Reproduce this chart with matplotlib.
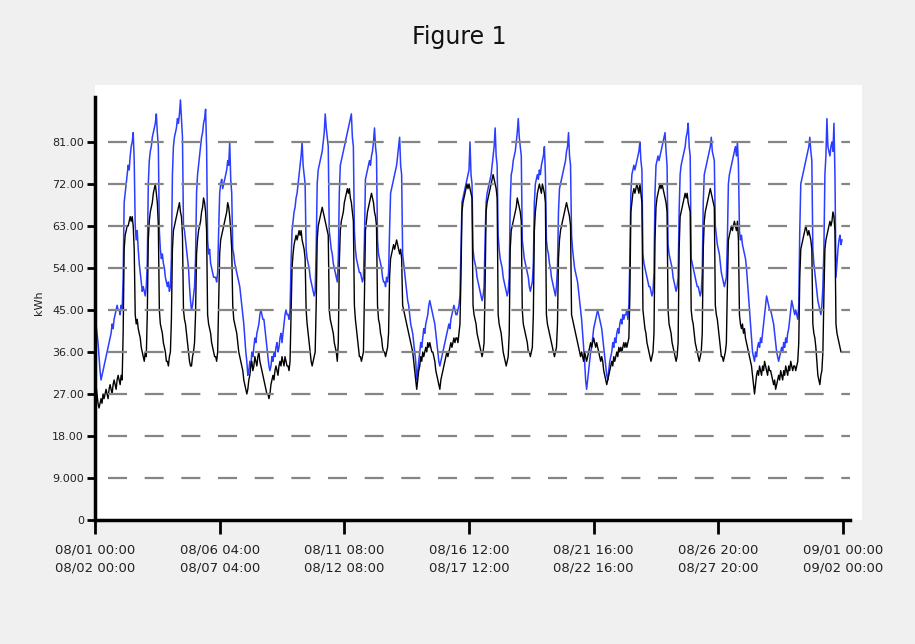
import numpy as np
import matplotlib.pyplot as plt

# hourly readings, 08/01 00:00 .. 08/31 23:00 (one row per day)
blue_kwh = [
    43, 42, 40, 38, 35, 32, 30, 31, 32, 33, 34, 35, 36, 37, 38, 39, 40, 42, 41, 43, 44, 45, 46, 45,
    45, 44, 46, 45, 52, 68, 70, 72, 74, 76, 75, 78, 80, 81, 83, 77, 63, 60, 62, 58, 55, 53, 51, 49,
    50, 49, 48, 50, 55, 72, 77, 79, 80, 82, 83, 84, 85, 87, 83, 80, 62, 58, 56, 57, 55, 54, 52, 51,
    50, 51, 49, 50, 56, 74, 80, 82, 83, 84, 86, 85, 87, 90, 86, 82, 63, 62, 60, 58, 56, 54, 50, 47,
    45, 46, 48, 50, 56, 70, 74, 76, 78, 80, 82, 83, 85, 86, 88, 80, 60, 57, 58, 55, 54, 53, 52, 52,
    52, 51, 53, 62, 70, 72, 73, 71, 72, 73, 74, 75, 77, 76, 81, 73, 70, 58, 57, 55, 54, 53, 52, 51,
    50, 48, 46, 44, 42, 39, 36, 34, 31, 32, 34, 33, 36, 35, 37, 39, 38, 40, 41, 42, 44, 45, 44, 43,
    43, 41, 39, 37, 35, 33, 32, 33, 35, 34, 36, 35, 37, 38, 36, 37, 39, 40, 38, 40, 42, 44, 45, 44,
    44, 43, 45, 55, 62, 64, 66, 67, 69, 70, 72, 74, 76, 78, 81, 76, 74, 72, 58, 56, 55, 54, 52, 51,
    50, 49, 48, 49, 58, 72, 75, 76, 77, 78, 79, 81, 83, 87, 84, 82, 80, 62, 60, 58, 57, 55, 54, 53,
    52, 51, 56, 70, 76, 77, 78, 79, 80, 81, 82, 83, 84, 85, 86, 87, 82, 80, 62, 58, 56, 55, 54, 53,
    53, 52, 51, 52, 60, 73, 74, 75, 76, 77, 76, 78, 79, 81, 84, 80, 78, 60, 57, 56, 55, 54, 52, 51,
    51, 50, 52, 51, 53, 62, 70, 71, 72, 73, 74, 75, 76, 78, 80, 82, 76, 74, 57, 55, 53, 51, 49, 47,
    46, 44, 42, 41, 40, 38, 36, 34, 30, 32, 34, 36, 38, 37, 39, 41, 40, 42, 43, 44, 46, 47, 46, 45,
    44, 43, 42, 40, 38, 36, 34, 33, 34, 35, 36, 37, 38, 39, 40, 41, 42, 41, 43, 44, 45, 46, 45, 44,
    44, 45, 46, 48, 58, 68, 69, 70, 71, 72, 73, 74, 75, 81, 74, 72, 58, 56, 55, 54, 52, 51, 50, 49,
    48, 47, 48, 50, 60, 68, 70, 71, 72, 73, 74, 76, 78, 80, 84, 78, 76, 61, 58, 56, 55, 54, 52, 51,
    50, 49, 48, 49, 52, 68, 74, 75, 77, 78, 79, 81, 83, 86, 82, 80, 78, 60, 58, 56, 55, 54, 53, 52,
    50, 49, 50, 51, 55, 68, 72, 73, 74, 73, 75, 74, 76, 77, 78, 80, 74, 60, 58, 57, 55, 54, 52, 51,
    50, 49, 48, 50, 54, 66, 71, 72, 73, 74, 75, 76, 77, 79, 80, 83, 78, 76, 61, 58, 56, 54, 53, 52,
    51, 49, 47, 45, 43, 40, 37, 34, 30, 28, 30, 32, 34, 36, 37, 39, 41, 42, 43, 44, 45, 44, 43, 42,
    41, 39, 37, 35, 33, 31, 30, 32, 34, 35, 36, 38, 37, 39, 38, 40, 41, 40, 42, 43, 42, 44, 43, 44,
    44, 45, 43, 46, 56, 70, 74, 75, 76, 75, 76, 77, 78, 79, 81, 77, 75, 57, 55, 54, 53, 52, 51, 50,
    50, 49, 48, 49, 53, 70, 76, 77, 78, 77, 78, 79, 80, 81, 82, 83, 79, 76, 59, 57, 56, 55, 54, 52,
    51, 50, 49, 50, 52, 66, 74, 76, 77, 78, 79, 80, 82, 83, 85, 80, 78, 56, 55, 54, 53, 52, 51, 50,
    50, 49, 48, 49, 53, 68, 74, 75, 76, 77, 78, 79, 80, 82, 79, 78, 77, 63, 61, 59, 58, 57, 55, 53,
    52, 51, 50, 51, 52, 60, 72, 74, 75, 76, 77, 78, 79, 80, 78, 81, 76, 62, 60, 61, 59, 58, 57, 56,
    54, 51, 48, 45, 42, 39, 36, 35, 34, 36, 35, 37, 38, 37, 39, 38, 40, 42, 44, 46, 48, 47, 46, 45,
    45, 44, 43, 42, 40, 38, 36, 35, 34, 35, 36, 37, 36, 38, 37, 39, 38, 40, 41, 43, 45, 47, 46, 45,
    44, 45, 44, 43, 46, 62, 72, 73, 74, 75, 76, 77, 78, 79, 80, 82, 79, 77, 58, 55, 53, 51, 49, 47,
    46, 45, 44, 46, 50, 58, 74, 78, 86, 80, 79, 78, 80, 81, 79, 85, 74, 52, 55, 58, 60, 61, 59, 60,
]
black_kwh = [
    31, 29, 27, 25, 24, 25, 26, 25, 27, 26, 27, 28, 27, 26, 28, 29, 28, 27, 29, 30, 29, 28, 30, 31,
    30, 29, 31, 30, 40, 58, 61, 62, 63, 63, 64, 65, 64, 65, 63, 58, 44, 42, 43, 41, 40, 39, 37, 36,
    35, 34, 36, 35, 44, 60, 64, 66, 67, 68, 70, 71, 72, 70, 68, 63, 45, 42, 41, 40, 38, 37, 36, 34,
    34, 33, 35, 36, 43, 58, 62, 63, 64, 65, 66, 67, 68, 66, 65, 61, 45, 43, 42, 40, 38, 36, 34, 33,
    33, 35, 36, 38, 44, 57, 60, 62, 63, 64, 66, 67, 69, 68, 66, 62, 44, 42, 41, 40, 38, 37, 36, 35,
    35, 34, 36, 46, 57, 60, 61, 62, 63, 64, 65, 66, 68, 67, 65, 62, 58, 46, 43, 42, 41, 40, 38, 36,
    35, 34, 33, 32, 30, 29, 28, 27, 28, 30, 31, 33, 34, 32, 33, 35, 34, 33, 35, 36, 34, 33, 32, 31,
    30, 29, 28, 27, 27, 26, 27, 29, 30, 31, 30, 32, 33, 32, 31, 33, 34, 33, 35, 34, 33, 35, 34, 33,
    33, 32, 34, 44, 54, 57, 59, 60, 61, 60, 61, 62, 61, 62, 60, 59, 58, 56, 45, 42, 40, 38, 36, 34,
    33, 34, 35, 36, 46, 60, 63, 64, 65, 66, 67, 66, 65, 64, 63, 62, 61, 45, 43, 42, 41, 40, 38, 37,
    36, 34, 38, 55, 62, 64, 65, 66, 68, 69, 70, 71, 70, 71, 69, 68, 66, 64, 46, 43, 41, 39, 37, 35,
    35, 34, 35, 36, 48, 62, 64, 66, 67, 68, 69, 70, 69, 68, 66, 65, 63, 46, 43, 42, 40, 39, 37, 36,
    36, 35, 36, 37, 40, 52, 56, 57, 58, 59, 58, 59, 60, 59, 58, 57, 58, 56, 46, 45, 44, 43, 42, 41,
    40, 39, 38, 37, 36, 34, 32, 30, 28, 30, 32, 33, 35, 34, 36, 35, 36, 37, 36, 38, 37, 38, 37, 36,
    36, 35, 34, 32, 31, 30, 29, 28, 30, 31, 32, 33, 34, 35, 36, 35, 36, 37, 38, 37, 38, 39, 38, 39,
    39, 38, 40, 42, 52, 66, 68, 69, 70, 71, 72, 71, 72, 71, 70, 69, 46, 44, 43, 42, 40, 39, 38, 37,
    36, 35, 36, 38, 50, 66, 68, 69, 70, 71, 72, 73, 74, 73, 72, 71, 69, 44, 42, 41, 40, 38, 36, 35,
    34, 33, 34, 35, 40, 58, 62, 63, 64, 65, 66, 67, 69, 68, 67, 66, 64, 45, 42, 41, 40, 39, 38, 36,
    36, 35, 36, 37, 44, 62, 66, 68, 70, 71, 72, 71, 70, 72, 71, 70, 68, 44, 42, 41, 40, 39, 38, 37,
    36, 35, 36, 37, 42, 56, 60, 62, 63, 64, 65, 66, 67, 68, 67, 66, 65, 63, 44, 43, 42, 41, 40, 39,
    38, 37, 36, 35, 36, 35, 34, 36, 35, 34, 35, 36, 37, 38, 37, 38, 39, 38, 37, 38, 37, 36, 35, 34,
    35, 34, 32, 31, 30, 29, 30, 31, 32, 33, 34, 33, 35, 34, 35, 36, 35, 37, 36, 37, 36, 37, 38, 37,
    38, 37, 38, 39, 48, 66, 68, 70, 71, 70, 71, 72, 71, 70, 72, 70, 68, 45, 43, 41, 40, 38, 37, 36,
    35, 34, 35, 36, 40, 60, 67, 69, 70, 71, 72, 71, 72, 71, 70, 69, 68, 66, 45, 42, 41, 40, 38, 37,
    36, 35, 34, 35, 38, 58, 65, 66, 67, 68, 69, 70, 69, 70, 68, 67, 66, 45, 43, 42, 40, 38, 37, 36,
    35, 34, 35, 36, 40, 58, 64, 66, 67, 68, 69, 70, 71, 70, 69, 68, 67, 46, 44, 43, 41, 39, 37, 35,
    35, 34, 35, 36, 38, 50, 60, 61, 62, 63, 62, 63, 64, 63, 62, 64, 60, 44, 42, 41, 42, 40, 41, 39,
    38, 37, 36, 35, 34, 33, 31, 29, 27, 29, 31, 32, 31, 33, 32, 31, 33, 32, 34, 33, 32, 31, 33, 32,
    32, 31, 30, 29, 30, 28, 29, 30, 31, 30, 32, 31, 30, 32, 31, 33, 32, 31, 33, 32, 34, 33, 32, 33,
    33, 32, 33, 34, 38, 52, 58, 59, 60, 61, 62, 63, 62, 61, 62, 61, 60, 58, 42, 40, 39, 37, 34, 31,
    30, 29, 31, 32, 36, 48, 58, 60, 61, 62, 63, 64, 63, 64, 66, 65, 62, 42, 40, 39, 38, 37, 36, 36,
]

y_ticks = [0, 9, 18, 27, 36, 45, 54, 63, 72, 81]
y_tick_labels = ['0', '9.000', '18.00', '27.00', '36.00', '45.00', '54.00', '63.00', '72.00', '81.00']
x_ticks = [0, 124, 248, 372, 496, 620, 744]
x_tick_labels = ['08/01 00:00\n08/02 00:00', '08/06 04:00\n08/07 04:00', '08/11 08:00\n08/12 08:00',
                 '08/16 12:00\n08/17 12:00', '08/21 16:00\n08/22 16:00', '08/26 20:00\n08/27 20:00',
                 '09/01 00:00\n09/02 00:00']

plt.rcParams['lines.scale_dashes'] = False

fig = plt.figure(figsize=(9.15, 6.44), dpi=100, facecolor='#f0f0f0')
ax = fig.add_axes([95 / 915, 1 - 520 / 644, (862 - 95) / 915, (520 - 85) / 644])
ax.set_facecolor('white')

hours = np.arange(len(blue_kwh))
ax.plot(hours, blue_kwh, color='#2b3dff', lw=1.1, zorder=2)
ax.plot(hours, black_kwh, color='black', lw=1.0, zorder=2)

# dashed reference lines
ax.hlines(y_ticks[1:], 12.9, 751, colors='#858585', linestyles=[(0, (13.7, 12.7))], lw=1.6, zorder=3)

ax.set_xlim(0, 762.9)
ax.set_ylim(0, 93.2)
ax.set_yticks(y_ticks)
ax.set_yticklabels(y_tick_labels)
ax.set_xticks(x_ticks)
ax.set_xticklabels(x_tick_labels, linespacing=1.45)

for s in ['top', 'right']:
    ax.spines[s].set_visible(False)
ax.spines['left'].set_linewidth(2.5)
ax.spines['bottom'].set_linewidth(2.5)
ax.spines['left'].set_bounds(0, 90.6)
ax.spines['bottom'].set_bounds(0, 751)

ax.tick_params(axis='y', direction='out', length=6, width=2, labelsize=8, pad=2, colors='black')
ax.tick_params(axis='x', direction='out', length=10, width=2, labelsize=9.5, pad=7)
for lab in ax.get_yticklabels() + ax.get_xticklabels():
    lab.set_color('#222222')

ax.set_ylabel('kWh', fontsize=8, labelpad=6, color='#222222')

fig.text(0.502, 1 - 37 / 644, 'Figure 1', ha='center', va='center', fontsize=17, color='#111111')

plt.savefig('out.png', dpi=100, facecolor=fig.get_facecolor())
